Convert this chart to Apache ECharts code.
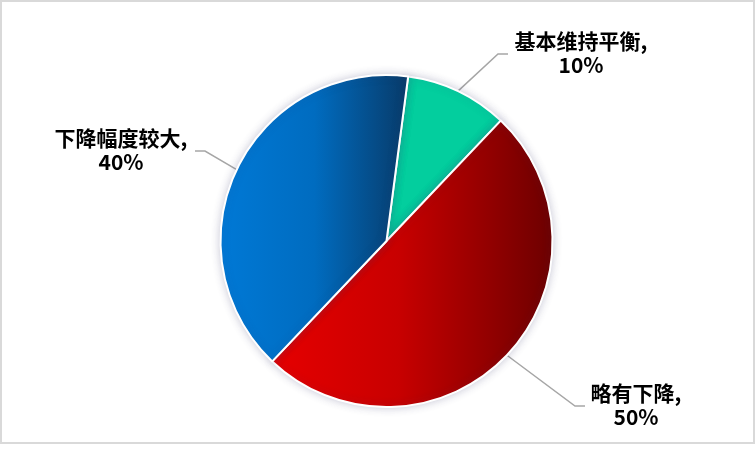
<!DOCTYPE html>
<html>
<head>
<meta charset="utf-8">
<script src="https://cdn.jsdelivr.net/npm/echarts@6/dist/echarts.min.js"></script>
<style>
html,body{margin:0;padding:0;background:#fff;}
#chart{width:755px;height:458px;}
</style>
</head>
<body>
<div id="chart"></div>
<script>
const categories = ['基本维持平衡', '略有下降', '下降幅度较大'];
const values = [10, 50, 40];
const percentLabels = ['10%', '50%', '40%'];

const sliceColors = [
  '#03CE9E',
  {type:'linear', x:0, y:0, x2:1, y2:0, colorStops:[
    {offset:0, color:'#e60000'}, {offset:0.45, color:'#c80000'}, {offset:1, color:'#6c0000'}]},
  {type:'linear', x:0, y:0, x2:1, y2:0, colorStops:[
    {offset:0, color:'#0079d6'}, {offset:0.5, color:'#006cc0'}, {offset:1, color:'#083a68'}]}
];

// label placement (text anchor, elbow, line end)
const labelPlacement = [
  {x:581, y:53, ex:498, ey:54, lx:508},
  {x:636, y:405, ex:575, ey:406, lx:585},
  {x:121, y:150, ex:205, ey:151, lx:195}
];

const chart = echarts.init(document.getElementById('chart'));
chart.setOption({
  backgroundColor:'#fff',
  animation:false,
  graphic:[{type:'rect', shape:{x:1, y:1, width:753, height:442},
    style:{fill:'none', stroke:'#d9d9d9', lineWidth:2}, silent:true, z:-1}],
  series:[{
    type:'pie',
    center:[386.5, 241],
    radius:166,
    startAngle:82.5,
    clockwise:true,
    avoidLabelOverlap:false,
    itemStyle:{borderColor:'#fff', borderWidth:2, shadowBlur:9, shadowColor:'rgba(60,60,110,0.25)'},
    label:{
      show:true, position:'outside',
      formatter:function(p){return p.name + ',\n' + percentLabels[p.dataIndex];},
      fontFamily:'"Noto Sans CJK SC", sans-serif', fontWeight:'bold', fontSize:21,
      color:'#000', lineHeight:24, align:'center'
    },
    labelLine:{show:true, length:30, length2:10, lineStyle:{color:'#a6a6a6', width:1.5}},
    labelLayout:function(params){
      const lp = labelPlacement[params.dataIndex];
      const p0 = params.labelLinePoints ? params.labelLinePoints[0] : [lp.ex, lp.ey];
      return {
        x:lp.x, y:lp.y, align:'center', verticalAlign:'middle',
        labelLinePoints:[p0, [lp.ex, lp.ey], [lp.lx, lp.ey]]
      };
    },
    data: categories.map(function(c, i){
      return {name:c, value:values[i], itemStyle:{color:sliceColors[i]}};
    })
  }]
});
</script>
</body>
</html>
